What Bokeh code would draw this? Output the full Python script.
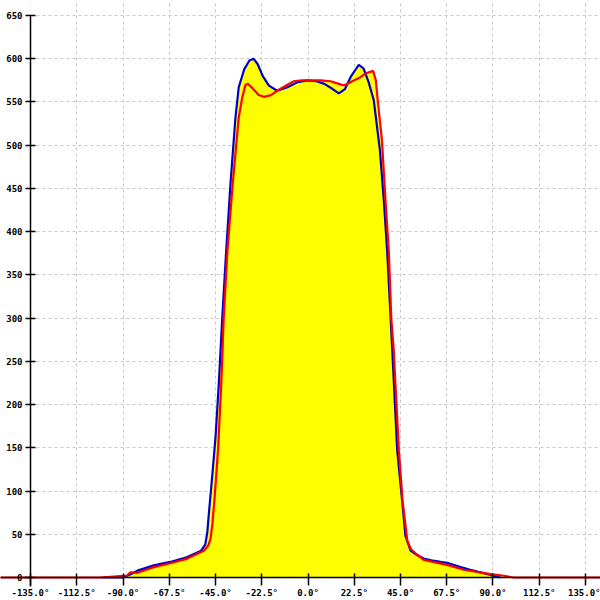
from bokeh.plotting import figure
from bokeh.models import Range1d, LinearAxis, FixedTicker, PrintfTickFormatter, BoxAnnotation, Grid
from bokeh.embed import file_html
from bokeh.resources import INLINE

# ---- data ----
x_ticks = [-135.0, -112.5, -90.0, -67.5, -45.0, -22.5, 0.0, 22.5, 45.0, 67.5, 90.0, 112.5, 135.0]
y_ticks = [0, 50, 100, 150, 200, 250, 300, 350, 400, 450, 500, 550, 600, 650]

blue_x = [-100, -90, -86, -83, -75, -67, -59, -52, -50, -49, -48.3, -46.5, -45, -43.4, -41.7, -39.8,
          -37.7, -35.3, -33.7, -31, -28.5, -26.5, -24.5, -22, -19, -15, -10, -5, 0, 4, 8, 12, 15,
          18, 21, 24.7, 27, 29.5, 32, 35, 36.9, 38.5, 41, 43.4, 45.8, 47.4, 49.9, 53, 56.3, 60,
          64.5, 67.7, 74.2, 79, 83.9, 90.4, 93.6]
blue_y = [0, 0, 4, 8, 14, 18, 23.5, 31, 38, 52, 72, 120, 162, 224, 301, 378,
          456, 532, 567, 588, 598, 600, 594, 580, 569, 563, 567, 573, 575, 574, 571, 565, 560,
          565, 580, 593, 589, 573, 552, 494, 436, 378, 263, 147, 89, 48, 31, 26, 22, 20,
          18, 17, 12, 9, 6, 2, 0]

red_x = [-180, -101, -88, -86.4, -83, -75, -67, -59, -50.7, -48.5, -47.4, -46.5, -45.5, -43.7,
         -42.2, -41, -39.2, -36.6, -33.7, -32, -30.4, -29.2, -27, -24, -21.5, -18, -15, -10,
         -6.9, -3, 1.2, 6, 11, 15, 17.4, 20, 22.3, 25, 28, 31.7, 33, 34, 36, 37.7, 39.3, 40.5,
         41.7, 44.2, 46, 48.3, 50, 52.3, 56.3, 67.7, 75.8, 88.8, 95.3, 100, 180]
red_y = [0, 0, 2.3, 6, 5.4, 12, 16.5, 21.6, 31, 37, 45, 62, 90, 150,
         224, 301, 378, 456, 532, 555, 570, 571, 566, 558, 556, 558, 563, 570,
         574, 575, 575, 575, 574, 571, 569, 572, 575, 578, 583, 586, 575, 550, 505, 436, 378, 300,
         263, 147, 89, 43, 33, 28, 20.4, 14.6, 9, 4, 2, 0, 0]

yellow_x = [-101, -90, -86.4, -83, -75, -67, -59, -52, -50, -49, -48.3, -46.5, -45, -43.4, -41.7,
            -39.8, -37.7, -35.3, -33.7, -31, -28.5, -26.5, -24.5, -22, -19, -15, -10, -5, 0, 6,
            11, 15, 18, 21, 24.7, 27, 29, 31.7, 33, 34, 36, 37.7, 39.3, 40.5, 41.7, 44.2, 46,
            48.3, 50, 53, 56.3, 60, 64.5, 67.7, 74.2, 79, 83.9, 88.8, 95.3, 100]
yellow_y = [0, 0, 5, 6, 13, 17, 22, 30, 36, 50, 70, 118, 160, 220, 298,
            376, 454, 530, 566, 587, 597, 599, 593, 579, 568, 563, 569, 573, 575, 575,
            574, 569, 566, 579, 592, 588, 584, 585, 574, 549, 504, 435, 377, 299, 262, 146, 88,
            42, 30, 25, 20, 18.5, 16.5, 15.5, 11, 8, 5, 3, 1, 0]

p = figure(width=600, height=600, output_backend="svg", toolbar_location=None,
           x_range=Range1d(-149.6, 142.3), y_range=Range1d(-26.6, 667.4),
           x_axis_type=None, y_axis_type=None, min_border=0,
           background_fill_color="white", border_fill_color="white")
p.outline_line_color = None

xaxis = LinearAxis(fixed_location=0, ticker=FixedTicker(ticks=x_ticks),
                   formatter=PrintfTickFormatter(format="%.1f°"))
yaxis = LinearAxis(fixed_location=-135, ticker=FixedTicker(ticks=y_ticks), bounds=(-10, 650))
for ax in (xaxis, yaxis):
    ax.major_label_text_font = "DejaVu Sans Mono"
    ax.major_label_text_font_size = "9px"
    ax.major_label_text_font_style = "bold"
    ax.major_label_text_color = "black"
    ax.axis_line_color = "black"
    ax.axis_line_width = 1.5
    ax.major_tick_line_color = "black"
    ax.major_tick_line_width = 1.5
    ax.minor_tick_line_color = None
xaxis.major_tick_in = 4
xaxis.major_tick_out = 8
xaxis.major_label_standoff = 2
yaxis.major_tick_in = 5
yaxis.major_tick_out = 5
yaxis.major_label_standoff = 3
p.add_layout(xaxis, "below")
p.add_layout(yaxis, "left")

xgrid = Grid(dimension=0, ticker=FixedTicker(ticks=x_ticks))
ygrid = Grid(dimension=1, ticker=FixedTicker(ticks=y_ticks))
for g in (xgrid, ygrid):
    g.grid_line_color = "#c8c8c8"
    g.grid_line_dash = "3 3"
    g.grid_line_width = 1
p.add_layout(xgrid)
p.add_layout(ygrid)

p.add_layout(BoxAnnotation(right=-135, fill_color="white", fill_alpha=1.0, line_alpha=0, level="underlay"))
p.add_layout(BoxAnnotation(top=0, fill_color="white", fill_alpha=1.0, line_alpha=0, level="underlay"))

p.varea(x=yellow_x, y1=0, y2=yellow_y, fill_color="#ffff00", fill_alpha=1.0)
p.line(blue_x, blue_y, line_color="#0000cc", line_width=2.2)
p.line(red_x, red_y, line_color="#ff0000", line_width=2.2)

open("out.html", "w").write(file_html(p, INLINE))
